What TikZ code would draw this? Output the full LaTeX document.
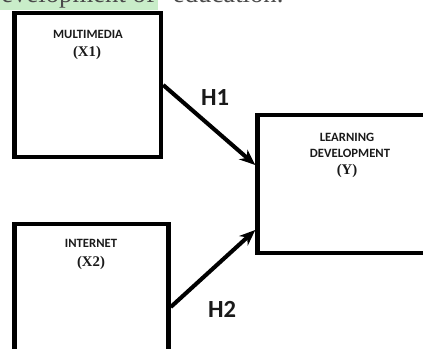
\documentclass[tikz,border=0pt]{standalone}
\usepackage{fontspec}
\setmainfont{Liberation Serif}
\newfontfamily\labelfont{Carlito}
\usetikzlibrary{arrows.meta,positioning}
\definecolor{ink}{HTML}{1A1A1A}
\definecolor{marker}{HTML}{C9EDC9}
\definecolor{prose}{HTML}{4A4A4A}

\begin{document}
\begin{tikzpicture}[x=0.025cm,y=0.025cm,
  varbox/.style={draw=black, line width=3.2pt, inner sep=0pt},
  varname/.style={font=\labelfont\bfseries\fontsize{9}{10}\selectfont, text=ink},
  varcode/.style={font=\bfseries\fontsize{10.5}{11}\selectfont, text=ink},
  hyp/.style={font=\labelfont\bfseries\fontsize{17.5}{18}\selectfont, text=ink},
  path/.style={-{Stealth[length=4mm,width=3.2mm]}, line width=2.9pt, black}]
  \useasboundingbox (0,0) rectangle (423,349);
  \clip (0,0) rectangle (423,349);

  % cut-off line of the running text above the figure
  \node[anchor=base east, fill=marker, inner xsep=2pt, inner ysep=0.6pt, text=prose,
        font=\fontsize{19}{19}\selectfont] (prev) at (158,346) {evelopment of};
  \node[anchor=base west, text=prose, font=\fontsize{19}{19}\selectfont] (prevend) at (168,346) {education.};

  % variable boxes
  \node[varbox, minimum width=3.66cm, minimum height=3.61cm] (x1) at (87.75,264) {};
  \node[varbox, minimum width=4.56cm, minimum height=3.45cm] (y) at (348.75,165) {};
  \node[varbox, minimum width=3.85cm, minimum height=4.4cm] (x2) at (91.5,37) {};

  \node[varname] (x1name) at (88,315) {MULTIMEDIA};
  \node[varcode] (x1code) at (87,296) {(X1)};
  \node[varname] (yname1) at (347,212) {LEARNING};
  \node[varname] (yname2) at (350,196) {DEVELOPMENT};
  \node[varcode] (ycode) at (347,178) {(Y)};
  \node[varname] (x2name) at (91,106) {INTERNET};
  \node[varcode] (x2code) at (91,86) {(X2)};

  % hypotheses
  \draw[path] (x1.east) -- ([yshift=0.475cm]y.west);
  \draw[path] ([yshift=0.125cm]x2.east) -- ([yshift=-1.15cm]y.west);
  \node[hyp] (h1) at (215,251) {H1};
  \node[hyp] (h2) at (222,40) {H2};
\end{tikzpicture}
\end{document}
